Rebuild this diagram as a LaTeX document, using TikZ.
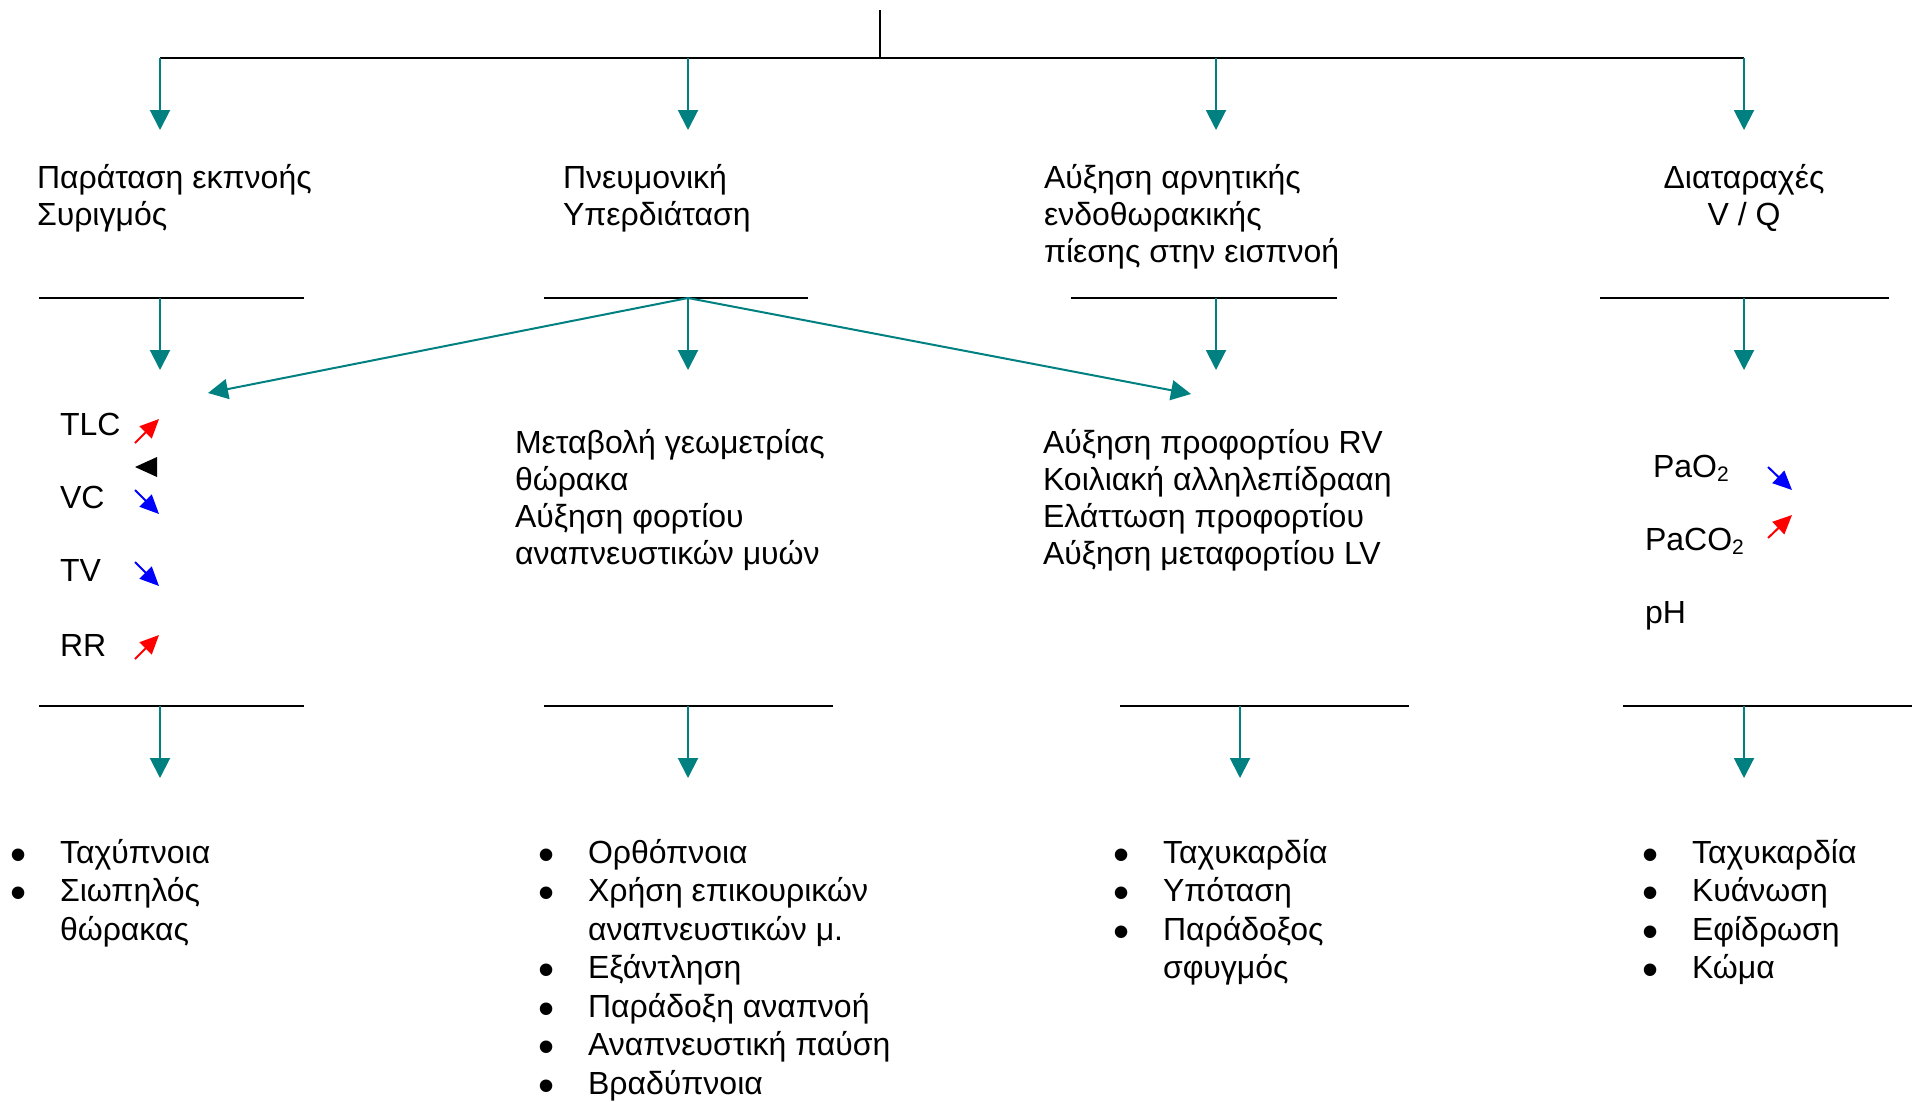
\documentclass[tikz,border=0pt]{standalone}
\usepackage{fontspec}
\setmainfont{Liberation Sans}
\usetikzlibrary{arrows.meta}
\definecolor{tealc}{RGB}{0,128,128}
\newcommand{\lines}[1]{\begin{tabular}[t]{@{}l@{}}#1\end{tabular}}
\newcommand{\clines}[1]{\begin{tabular}[t]{@{}c@{}}#1\end{tabular}}
\newcommand{\bul}{\makebox[0pt][c]{\smash{\raisebox{-7pt}{\fontsize{46}{46}\selectfont •}}}}
\newcommand{\blist}[1]{\begin{tabular}[t]{@{}p{41pt}@{}l@{}}#1\end{tabular}}
\newcommand{\subtwo}{\raisebox{-4pt}{\fontsize{21}{21}\selectfont 2}}
\begin{document}
\begin{tikzpicture}[x=1pt,y=-1pt,
  bar/.style={line width=2pt, black},
  tarr/.style={line width=2pt, tealc, -{Triangle[length=20pt,width=20pt]}},
  uparr/.style={line width=2pt, red, -{Triangle[length=19pt,width=17pt]}},
  dnarr/.style={line width=2pt, blue, -{Triangle[length=19pt,width=17pt]}},
  txt/.style={inner sep=0pt, outer sep=0pt, anchor=base west, font=\fontsize{32}{37}\selectfont},
  ctxt/.style={inner sep=0pt, outer sep=0pt, anchor=base, font=\fontsize{32}{37}\selectfont},
  lst/.style={inner sep=0pt, outer sep=0pt, anchor=base west, font=\fontsize{32}{38.5}\selectfont}]
\useasboundingbox (0,0) rectangle (1912,1101);

% top structure
\coordinate (root) at (880,10);
\coordinate (rootj) at (880,58);
\coordinate (j1) at (160,58);
\coordinate (j2) at (688,58);
\coordinate (j3) at (1216,58);
\coordinate (j4) at (1744,58);
\coordinate (a1) at (160,130);
\coordinate (a2) at (688,130);
\coordinate (a3) at (1216,130);
\coordinate (a4) at (1744,130);
\draw[bar] (root) -- (rootj);
\draw[bar] (j1) -- (j4);
\foreach \i in {1,2,3,4} \draw[tarr] (j\i) -- (a\i);

% headers
\node[txt] (h1) at (37,188) {\lines{Παράταση εκπνοής\\Συριγμός}};
\node[txt] (h2) at (563,188) {\lines{Πνευμονική\\Υπερδιάταση}};
\node[txt] (h3) at (1044,188) {\lines{Αύξηση αρνητικής\\ενδοθωρακικής\\πίεσης στην εισπνοή}};
\node[ctxt] (h4) at (1744,188) {\clines{Διαταραχές\\V / Q}};

% second bars
\coordinate (b1L) at (39,298);   \coordinate (b1R) at (304,298);
\coordinate (b2L) at (544,298);  \coordinate (b2R) at (808,298);
\coordinate (b3L) at (1071,298); \coordinate (b3R) at (1337,298);
\coordinate (b4L) at (1600,298); \coordinate (b4R) at (1889,298);
\foreach \i in {1,2,3,4} \draw[bar] (b\i L) -- (b\i R);
\coordinate (k1) at (160,298);
\coordinate (k2) at (688,298);
\coordinate (k3) at (1216,298);
\coordinate (k4) at (1744,298);
\coordinate (m1) at (160,370);
\coordinate (m2) at (688,370);
\coordinate (m3) at (1216,370);
\coordinate (m4) at (1744,370);
\foreach \i in {1,2,3,4} \draw[tarr] (k\i) -- (m\i);
\coordinate (dl) at (208,393);
\coordinate (dr) at (1191,394);
\draw[tarr] (k2) -- (dl);
\draw[tarr] (k2) -- (dr);

% col 1 middle
\node[txt] (tlc) at (60,435) {TLC};
\node[txt] (vc) at (60,508) {VC};
\node[txt] (tv) at (60,581) {TV};
\node[txt] (rr) at (60,656) {RR};
\coordinate (tlc0) at (135,443); \coordinate (tlc1) at (159,419);
\coordinate (vc0) at (135,490);  \coordinate (vc1) at (159,514);
\coordinate (tv0) at (135,562);  \coordinate (tv1) at (159,586);
\coordinate (rr0) at (135,659);  \coordinate (rr1) at (159,635);
\draw[uparr] (tlc0) -- (tlc1);
\draw[dnarr] (vc0) -- (vc1);
\draw[dnarr] (tv0) -- (tv1);
\draw[uparr] (rr0) -- (rr1);
\fill (135,467) -- (157,457) -- (157,477) -- cycle;

% col 2, 3 middle
\node[txt] (mid2) at (515,453) {\lines{Μεταβολή γεωμετρίας\\θώρακα\\Αύξηση φορτίου\\αναπνευστικών μυών}};
\node[txt] (mid3) at (1043,453) {\lines{Αύξηση προφορτίου RV\\Κοιλιακή αλληλεπίδρααη\\Ελάττωση προφορτίου\\Αύξηση μεταφορτίου LV}};

% col 4 middle
\node[txt] (pao2) at (1653,477) {PaO\subtwo};
\node[txt] (paco2) at (1645,550) {PaCO\subtwo};
\node[txt] (ph) at (1645,623) {pH};
\coordinate (po0) at (1768,467); \coordinate (po1) at (1792,490);
\coordinate (pc0) at (1768,538); \coordinate (pc1) at (1792,515);
\draw[dnarr] (po0) -- (po1);
\draw[uparr] (pc0) -- (pc1);

% third bars
\coordinate (c1L) at (39,706);   \coordinate (c1R) at (304,706);
\coordinate (c2L) at (544,706);  \coordinate (c2R) at (833,706);
\coordinate (c3L) at (1120,706); \coordinate (c3R) at (1409,706);
\coordinate (c4L) at (1623,706); \coordinate (c4R) at (1912,706);
\foreach \i in {1,2,3,4} \draw[bar] (c\i L) -- (c\i R);
\coordinate (n1) at (160,706);
\coordinate (n2) at (688,706);
\coordinate (n3) at (1240,706);
\coordinate (n4) at (1744,706);
\coordinate (p1) at (160,778);
\coordinate (p2) at (688,778);
\coordinate (p3) at (1240,778);
\coordinate (p4) at (1744,778);
\foreach \i in {1,2,3,4} \draw[tarr] (n\i) -- (p\i);

% bullet lists
\node[lst] (l1) at (19,863) {\blist{\bul & Ταχύπνοια\\ \bul & Σιωπηλός\\ & θώρακας}};
\node[lst] (l2) at (547,863) {\blist{\bul & Ορθόπνοια\\ \bul & Χρήση επικουρικών\\ & αναπνευστικών μ.\\ \bul & Εξάντληση\\ \bul & Παράδοξη αναπνοή\\ \bul & Αναπνευστική παύση\\ \bul & Βραδύπνοια}};
\node[lst] (l3) at (1122,863) {\blist{\bul & Ταχυκαρδία\\ \bul & Υπόταση\\ \bul & Παράδοξος\\ & σφυγμός}};
\node[lst] (l4) at (1651,863) {\blist{\bul & Ταχυκαρδία\\ \bul & Κυάνωση\\ \bul & Εφίδρωση\\ \bul & Κώμα}};
\end{tikzpicture}
\end{document}
